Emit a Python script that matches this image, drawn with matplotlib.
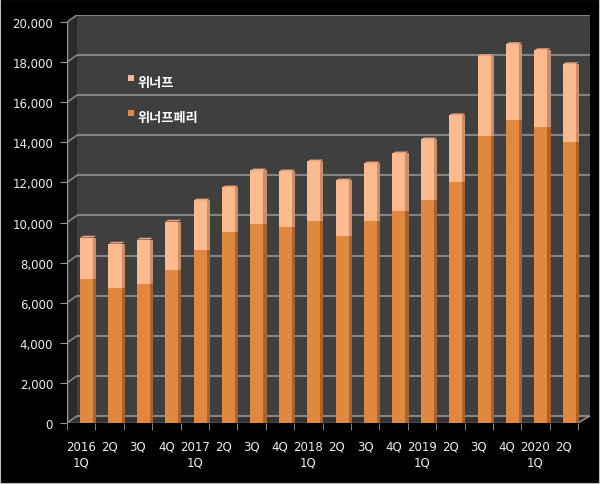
import matplotlib
matplotlib.use("Agg")
import matplotlib.pyplot as plt
from matplotlib.patches import Polygon, Rectangle
import numpy as np

plt.rcParams['font.family'] = ['Noto Sans CJK KR', 'DejaVu Sans']

categories = ["2016\n1Q", "2Q", "3Q", "4Q", "2017\n1Q", "2Q", "3Q", "4Q",
              "2018\n1Q", "2Q", "3Q", "4Q", "2019\n1Q", "2Q", "3Q", "4Q",
              "2020\n1Q", "2Q"]
# bottom series (위너프페리)
winnerf_peri = [7200, 6750, 6950, 7650, 8650, 9550, 9950, 9800, 10100,
                9350, 10100, 10550, 11100, 12000, 14300, 15100, 14750, 14000]
# top series (위너프)
winnerf = [2050, 2200, 2200, 2400, 2450, 2200, 2650, 2750, 2950,
           2750, 2850, 2900, 3050, 3350, 4000, 3800, 3850, 3900]
series_names = ["위너프", "위너프페리"]
yticks = list(range(0, 20001, 2000))

W, H = 600, 485
fig = plt.figure(figsize=(W / 100, H / 100), dpi=100, facecolor="black")

ax_l, ax_r, ax_b, ax_t = 67, 590, 424, 16
ax = fig.add_axes([ax_l / W, 1 - ax_b / H, (ax_r - ax_l) / W, (ax_b - ax_t) / H])
ax.set_facecolor("black")
n = len(categories)
x = np.arange(n)
xmin, xmax = -0.5, 17.92
ymax = 20350
ax.set_xlim(xmin, xmax)
ax.set_ylim(0, ymax)
for s in ax.spines.values():
    s.set_visible(False)

dx, dy = 0.35, 350  # 3D depth offset
# walls
ax.add_patch(Rectangle((xmin + dx, dy), xmax - xmin - dx, ymax - dy,
                       facecolor="#3f3f3f", edgecolor="none", zorder=0))
ax.add_patch(Polygon([(xmin, 0), (xmin, 20000), (xmin + dx, 20000 + dy), (xmin + dx, dy)],
                     closed=True, facecolor="#2b2b2b", edgecolor="none", zorder=0))
ax.add_patch(Polygon([(xmin, 0), (17.5, 0), (xmax, dy), (xmin + dx, dy)],
                     closed=True, facecolor="#333333", edgecolor="none", zorder=0))
grid_c = "#858585"
for v in yticks:
    ax.plot([xmin + dx, xmax], [v + dy, v + dy], color=grid_c, lw=1.5, zorder=1,
            solid_capstyle="butt")
    ax.plot([xmin, xmin + dx], [v, v + dy], color=grid_c, lw=1.2, zorder=1)
# front axis lines
ax.plot([xmin, xmin], [0, 20000], color="#9a9a9a", lw=1, zorder=2)
ax.plot([xmin, 17.5], [0, 0], color="#9a9a9a", lw=1, zorder=2)
ax.plot([17.5, xmax], [0, dy], color="#9a9a9a", lw=1, zorder=2)

# bars
off, fw, sw = 0.19, 0.46, 0.11
bottom_front, bottom_side = "#E0883F", "#A8642C"
top_front, top_side = "#FDBA8E", "#C98F6C"
b = np.array(winnerf_peri)
t = np.array(winnerf)
ax.bar(x + off, b, width=fw, color=bottom_front, zorder=3)
ax.bar(x + off + fw / 2 + sw / 2, b, width=sw, color=bottom_side, zorder=3)
ax.bar(x + off, t, bottom=b, width=fw, color=top_front, zorder=3)
ax.bar(x + off + fw / 2 + sw / 2, t, bottom=b, width=sw, color=top_side, zorder=3)
# top caps
for xi, tot in zip(x, b + t):
    ax.add_patch(Polygon([(xi + off - fw / 2, tot), (xi + off + fw / 2, tot),
                          (xi + off + fw / 2 + sw, tot + 90), (xi + off - fw / 2 + sw, tot + 90)],
                         closed=True, facecolor="#E9A57C", edgecolor="none", zorder=3))

# ticks
ax.set_yticks(yticks)
ax.set_yticklabels([f"{v:,}" for v in yticks], color="#eeeeee", fontsize=8.5,
                   family=["DejaVu Sans"])
ax.tick_params(axis="y", length=5, color="#9a9a9a", pad=5)
ax.set_xticks(x)
ax.set_xticklabels(categories, color="#eeeeee", fontsize=8.5, family=["DejaVu Sans"],
                   linespacing=1.25)
ax.tick_params(axis="x", length=0, pad=12)
ax.set_xticks(np.arange(n + 1) - 0.5, minor=True)
ax.tick_params(axis="x", which="minor", length=5, color="#9a9a9a")

# legend (manual)
leg = [(series_names[0], "#F6B79A", 83), (series_names[1], "#E0883F", 118)]
for name, col, py in leg:
    fig.patches.append(Rectangle(((128) / W, 1 - (py - 1) / H), 6 / W, 6 / H,
                                 transform=fig.transFigure, facecolor=col,
                                 edgecolor="none", figure=fig))
    fig.text(137 / W, 1 - py / H, name, color="white", fontsize=9.5, fontweight="bold",
             va="center", ha="left")

fig.patches.append(Rectangle((0, 0), 1, 1, transform=fig.transFigure, fill=False,
                             edgecolor="#bdbdbd", linewidth=1.5, figure=fig))

fig.savefig("out.png", dpi=100, facecolor="black")
